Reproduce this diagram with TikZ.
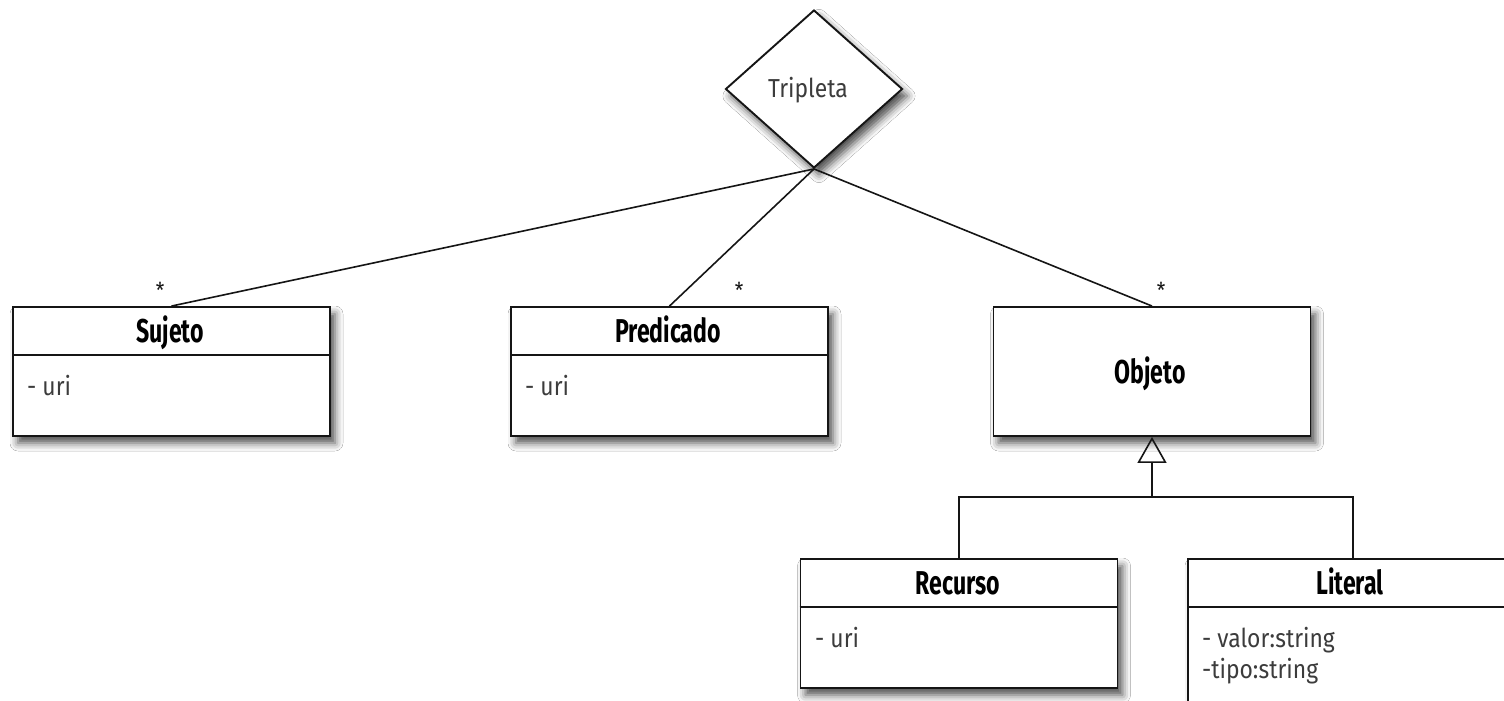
\documentclass[tikz,border=0pt]{standalone}
\usepackage{fontspec}
\setmainfont{Fira Sans}[FakeStretch=0.88]
\newfontfamily\titlefont{Fira Sans}[FakeStretch=0.7]
\usetikzlibrary{shapes.geometric,shadows.blur,arrows.meta}

\definecolor{ink}{HTML}{151515}
\definecolor{attrtext}{HTML}{3C3C3C}

\tikzset{
  umlshadow/.style={blur shadow={shadow xshift=5pt, shadow yshift=-7pt,
      shadow blur radius=8pt, shadow opacity=70}},
  classbox/.style={draw=ink, line width=1.9pt, fill=white, rectangle,
      inner sep=0pt, minimum width=317pt, minimum height=129pt, umlshadow},
  relbox/.style={draw=ink, line width=1.9pt, fill=white, diamond,
      inner sep=0pt, minimum width=177pt, minimum height=158pt, umlshadow},
  classname/.style={font=\titlefont\bfseries\fontsize{33}{36}\selectfont,
      text=black, inner sep=0pt, anchor=base},
  attr/.style={font=\fontsize{26}{31}\selectfont, text=attrtext, inner sep=0pt,
      anchor=base west, align=left},
  mult/.style={font=\fontsize{22}{24}\selectfont, text=ink, inner sep=0pt},
  assoc/.style={draw=ink, line width=1.6pt},
  divider/.style={draw=ink, line width=1.7pt},
  gen/.style={draw=ink, line width=1.6pt,
      -{Triangle[open, width=29pt, length=26pt, line width=1.6pt]}},
}

\begin{document}
\begin{tikzpicture}[x=1pt, y=-1pt]
  \useasboundingbox (0,0) rectangle (1504,701);
  \fill[white] (0,0) rectangle (1504,701);

  % association class
  \node[relbox] (trip) at (814,89) {};
  \node[font=\fontsize{26}{28}\selectfont, text=attrtext, inner sep=0pt, anchor=base]
    (triplabel) at (808,97) {Tripleta};

  % classes
  \node[classbox] (suj) at (171.5,371.5) {};
  \node[classbox] (pred) at (669.5,371.5) {};
  \node[classbox] (obj) at (1152,371.5) {};
  \node[classbox] (rec) at (959,623.5) {};
  \node[classbox, minimum width=330pt, minimum height=150pt] (lit) at (1353,634) {};

  % compartment dividers
  \draw[divider] (suj.west |- 0,355) -- (suj.east |- 0,355);
  \draw[divider] (pred.west |- 0,355) -- (pred.east |- 0,355);
  \draw[divider] (rec.west |- 0,607) -- (rec.east |- 0,607);
  \draw[divider] (lit.west |- 0,607) -- (lit.east |- 0,607);

  % class names
  \node[classname] (sujname) at (170,342) {Sujeto};
  \node[classname] (predname) at (668,342) {Predicado};
  \node[classname] (objname) at (1150,383) {Objeto};
  \node[classname] (recname) at (958,594) {Recurso};
  \node[classname] (litname) at (1350,594) {Literal};

  % attributes
  \node[attr] (sujattr) at (27,395) {- uri};
  \node[attr] (predattr) at (525,395) {- uri};
  \node[attr] (recattr) at (815,647) {- uri};
  \node[attr] (litattr1) at (1202,647) {- valor:string};
  \node[attr] (litattr2) at (1202,678) {-tipo:string};

  % associations
  \draw[assoc] (trip.south) -- (suj.north);
  \draw[assoc] (trip.south) -- (pred.north);
  \draw[assoc] (trip.south) -- (obj.north);

  % multiplicities
  \node[mult] (m1) at (160,290) {*};
  \node[mult] (m2) at (739,290) {*};
  \node[mult] (m3) at (1161,290) {*};

  % generalization
  \coordinate (bar) at (1152,497);
  \draw[assoc] (rec.north) |- (bar);
  \draw[assoc] (lit.north) |- (bar);
  \draw[gen] (bar) -- (obj.south);
\end{tikzpicture}
\end{document}
